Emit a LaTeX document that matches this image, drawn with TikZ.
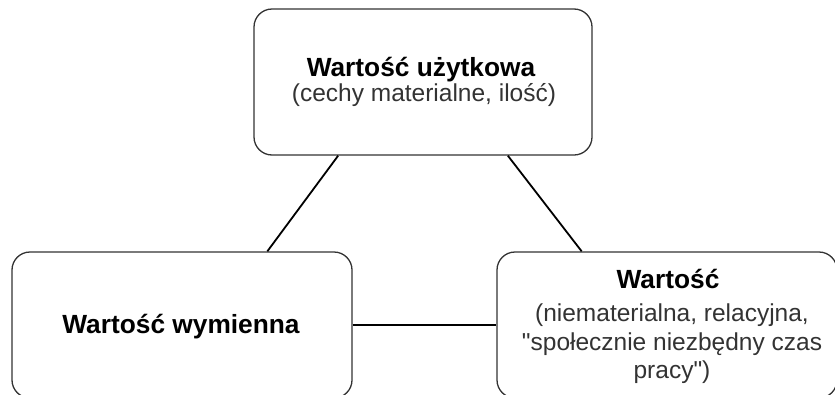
\documentclass[tikz,border=0pt]{standalone}
\usepackage{fontspec}
\setmainfont{Liberation Sans}[Ligatures=TeXOff]
\usetikzlibrary{calc}
\definecolor{boxline}{HTML}{333333}
\definecolor{subtext}{HTML}{333333}
\begin{document}
\begin{tikzpicture}[x=1pt,y=-1pt,
  box/.style={draw=boxline, line width=1.3pt, rounded corners=18pt, fill=white, inner sep=0pt},
  link/.style={draw=black, line width=1.8pt},
  headline/.style={font=\fontsize{26.3}{30}\selectfont\bfseries, text=black, inner sep=0pt, anchor=base},
  subline/.style={font=\fontsize{24.5}{28}\selectfont, text=subtext, inner sep=0pt, anchor=base}]
\useasboundingbox (0,0) rectangle (835,394);

% the three value boxes
\node[box, minimum width=338pt, minimum height=146pt] (use) at (423,82) {};
\node[box, minimum width=340pt, minimum height=146pt] (exch) at (182,325) {};
\node[box, minimum width=340pt, minimum height=146pt] (val) at (667,325) {};

% connectors between the boxes
\draw[link] ($(use.south west)!0.25!(use.south east)$) -- ($(exch.north west)!0.75!(exch.north east)$);
\draw[link] ($(use.south west)!0.75!(use.south east)$) -- ($(val.north west)!0.25!(val.north east)$);
\draw[link] (exch.east) -- (val.west);

% box texts
\node[headline] (use-t) at (421,76) {Wartość użytkowa};
\node[subline] (use-s) at (424,101) {(cechy materialne, ilość)};

\node[headline] (exch-t) at (181,333) {Wartość wymienna};

\node[headline] (val-t) at (668,288) {Wartość};
\node[subline] (val-s1) at (672,321) {(niematerialna, relacyjna,};
\node[subline] (val-s2) at (672,350) {"społecznie niezbędny czas};
\node[subline] (val-s3) at (672,378) {pracy")};
\end{tikzpicture}
\end{document}
